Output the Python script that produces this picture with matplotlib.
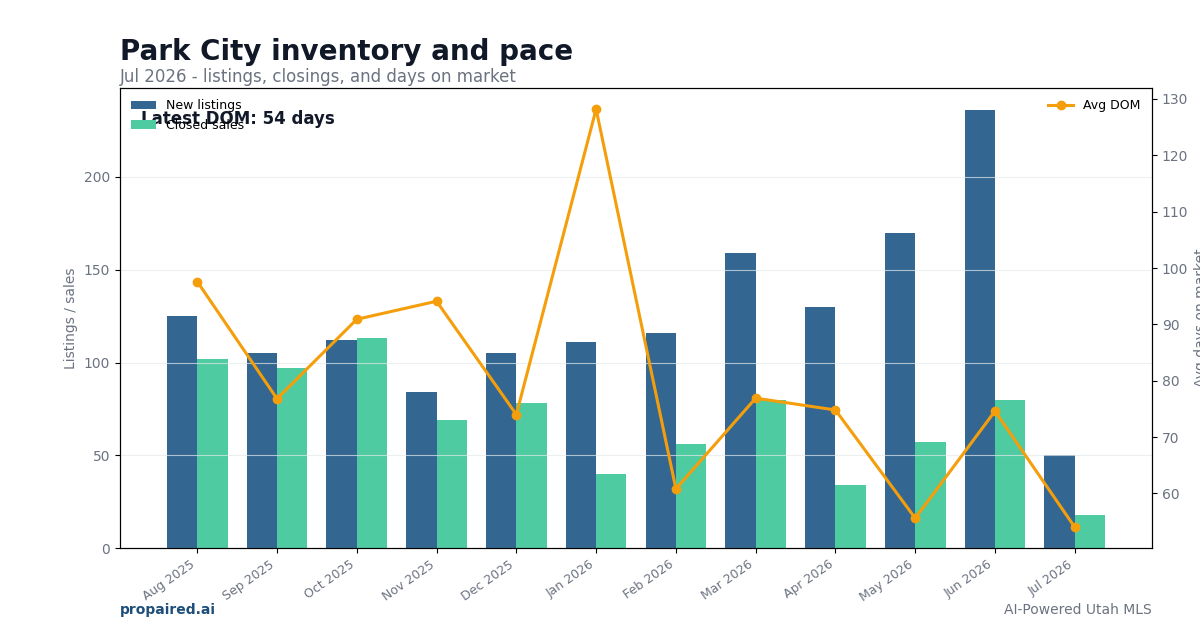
import numpy as np
import matplotlib
matplotlib.use("Agg")
import matplotlib.pyplot as plt

months = ["Aug 2025", "Sep 2025", "Oct 2025", "Nov 2025", "Dec 2025", "Jan 2026",
          "Feb 2026", "Mar 2026", "Apr 2026", "May 2026", "Jun 2026", "Jul 2026"]
new_listings = [125, 105, 112, 84, 105, 111, 116, 159, 130, 170, 236, 50]
closed_sales = [102, 97, 113, 69, 78, 40, 56, 80, 34, 57, 80, 18]
avg_dom = [97.6, 76.8, 90.9, 94.1, 74.0, 128.2, 60.8, 76.9, 74.8, 55.6, 74.6, 54.0]

BLUE = "#336791"
GREEN = "#4ecba0"
ORANGE = "#f59e0b"
GRAY = "#6b7280"
DARK = "#111827"

fig = plt.figure(figsize=(12, 6.3), dpi=100)
ax = fig.add_axes([0.1, 0.13, 0.86, 0.73])

x = np.arange(len(months))
w = 0.38
ax.bar(x - w / 2, new_listings, w, color=BLUE, label="New listings")
ax.bar(x + w / 2, closed_sales, w, color=GREEN, label="Closed sales")
ax.set_ylim(0, max(new_listings) * 1.05)
ax.set_xticks(x)
ax.set_xticklabels(months, rotation=35, ha="right", fontsize=9, color=GRAY)
ax.tick_params(axis="y", labelsize=10, labelcolor=GRAY)
ax.set_ylabel("Listings / sales", color=GRAY, fontsize=10)
ax.grid(axis="y", color="#e5e7eb", linewidth=0.8, alpha=0.7)
ax.legend(loc="upper left", frameon=False, fontsize=9)

ax2 = ax.twinx()
ax2.plot(x, avg_dom, color=ORANGE, linewidth=2.2, marker="o", markersize=6, label="Avg DOM")
ax2.tick_params(axis="y", labelsize=10, labelcolor=GRAY)
ax2.set_ylabel("Avg days on market", color=GRAY, fontsize=10)
ax2.legend(loc="upper right", frameon=False, fontsize=9)

ax.text(0.02, 0.933, f"Latest DOM: {avg_dom[-1]:.0f} days", transform=ax.transAxes,
        fontsize=12, fontweight="bold", color=DARK, va="center", zorder=5)

fig.text(0.1, 0.917, "Park City inventory and pace", fontsize=20, fontweight="bold",
         color=DARK, va="center")
fig.text(0.1, 0.877, "Jul 2026 - listings, closings, and days on market", fontsize=12,
         color=GRAY, va="center")
fig.text(0.1, 0.032, "propaired.ai", fontsize=10, fontweight="bold", color="#1e4e79", va="center")
fig.text(0.96, 0.032, "AI-Powered Utah MLS", fontsize=10, color=GRAY, va="center", ha="right")

fig.savefig("out.png", dpi=100)
